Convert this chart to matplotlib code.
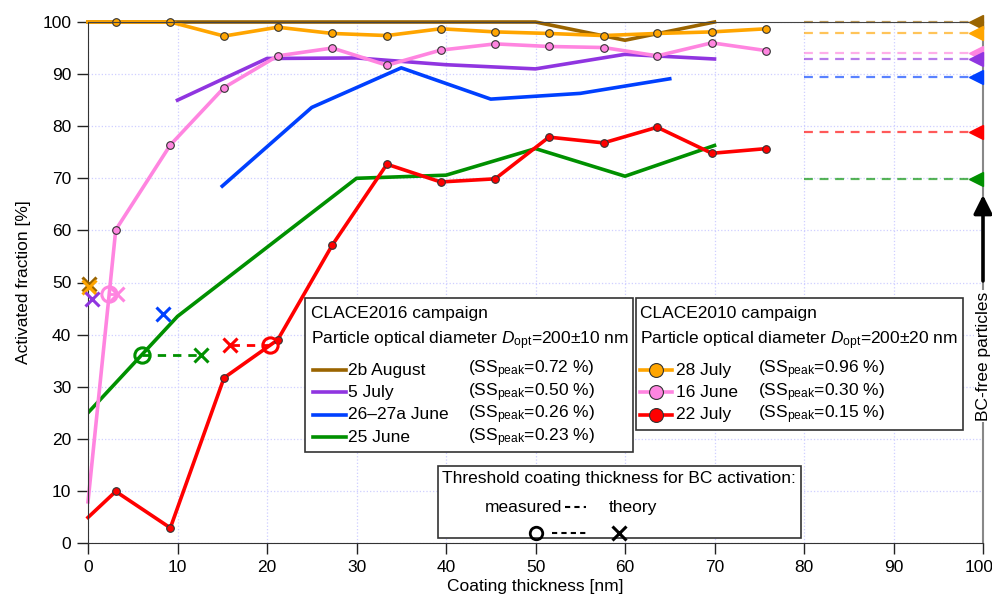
import matplotlib
matplotlib.use("Agg")
import matplotlib.pyplot as plt
import matplotlib.transforms as mtransforms
from matplotlib.patches import Rectangle
from matplotlib.lines import Line2D

plt.rcParams['font.family'] = ['Liberation Sans', 'DejaVu Sans']
plt.rcParams['mathtext.fontset'] = 'custom'
plt.rcParams['mathtext.rm'] = 'Liberation Sans'
plt.rcParams['mathtext.it'] = 'Liberation Sans:italic'
plt.rcParams['font.size'] = 12.5

## CLACE2016 campaign (lines only)
aug2b_x = [0, 50, 60, 70]
aug2b_y = [100, 100, 96.5, 100]
jul5_x = [10, 20, 30, 40, 50, 60, 70]
jul5_y = [85, 93, 93.1, 91.8, 91, 93.8, 92.9]
jun2627_x = [15, 25, 35, 45, 55, 65]
jun2627_y = [68.5, 83.6, 91.2, 85.2, 86.3, 89.1]
jun25_x = [0, 10, 30, 40, 50, 60, 70]
jun25_y = [25, 43.5, 70, 70.6, 75.7, 70.4, 76.3]

## CLACE2010 campaign (lines with markers)
x_2010 = [0, 3.1, 9.2, 15.2, 21.2, 27.3, 33.4, 39.4, 45.5, 51.5, 57.6, 63.6, 69.7, 75.8]
jul28_y = [100, 100, 100, 97.3, 99.0, 97.8, 97.4, 98.7, 98.1, 97.8, 97.4, 97.8, 98.1, 98.7]
jun16_y = [7.9, 60.1, 76.4, 87.4, 93.5, 95.0, 91.7, 94.6, 95.8, 95.3, 95.1, 93.5, 96.0, 94.5]
jul22_y = [4.9, 9.9, 2.9, 31.7, 39.0, 57.2, 72.7, 69.3, 69.9, 77.9, 76.8, 79.8, 74.8, 75.7]

## threshold coating thickness: measured (circle) and theory (cross)
meas_names = ['jun25', 'jul22', 'jun16']
meas_x = [6.0, 20.3, 2.4]
meas_y = [36, 38, 47.7]
theo_names = ['jun25', 'jul22', 'jun16', 'aug2b', 'jul28', 'jul5', 'jun2627']
theo_x = [12.6, 15.9, 3.2, 0.15, 0.15, 0.5, 8.4]
theo_y = [36, 38, 47.7, 49.8, 49.1, 46.8, 43.9]

## activated fraction of BC-free particles
bcfree_names = ['aug2b', 'jul28', 'jun16', 'jul5', 'jun2627', 'jul22', 'jun25']
bcfree_y = [100, 97.9, 94.0, 92.9, 89.4, 78.9, 69.9]

colors = {'aug2b': '#9a6400', 'jul5': '#9035e0', 'jun2627': '#0040ff', 'jun25': '#009000',
          'jul28': '#ffa500', 'jun16': '#ff85e0', 'jul22': '#ff0000'}

fig = plt.figure(figsize=(9.92, 6.06), dpi=100)
ax = fig.add_axes([88/992, 63/606, 895/992, 521/606])
ax.set_xlim(0, 100)
ax.set_ylim(0, 100)
ax.set_xticks(range(0, 101, 10))
ax.set_yticks(range(0, 101, 10))
ax.grid(True, color='#cfcfff', linestyle=':', linewidth=0.9)
ax.set_axisbelow(True)
ax.tick_params(direction='out', length=8, width=1, pad=4, colors='#222222', labelcolor='black')
for side in ['left', 'bottom']:
    ax.spines[side].set_color('#333333')
ax.spines['top'].set_color('#444444')
ax.spines['right'].set_color('#888888')
ax.spines['right'].set_linewidth(1.5)

# last x tick label sits at the figure edge, nudge it in a little
last_lab = ax.get_xticklabels()[-1]
last_lab.set_transform(last_lab.get_transform() +
                       mtransforms.ScaledTranslation(-4 / 100, 0, fig.dpi_scale_trans))

lw = 2.6
ax.plot(aug2b_x, aug2b_y, color=colors['aug2b'], lw=lw, clip_on=False)
ax.plot(jul5_x, jul5_y, color=colors['jul5'], lw=lw)
ax.plot(jun2627_x, jun2627_y, color=colors['jun2627'], lw=lw)
ax.plot(jun25_x, jun25_y, color=colors['jun25'], lw=lw)
for key, ys in [('jul28', jul28_y), ('jun16', jun16_y), ('jul22', jul22_y)]:
    ax.plot(x_2010, ys, color=colors[key], lw=lw, marker='o', ms=5.5, mec='#333333', mew=0.8,
            markevery=list(range(1, len(x_2010))), clip_on=False)

# threshold markers, dashed between measured and theory
for name, mx, my in zip(meas_names, meas_x, meas_y):
    i = theo_names.index(name)
    ax.plot([mx, theo_x[i]], [my, theo_y[i]], color=colors[name], ls=(0, (3, 2.5)), lw=2)
    ax.plot(mx, my, 'o', mfc='none', mec=colors[name], ms=11, mew=2.2, zorder=5)
for name, tx, ty in zip(theo_names, theo_x, theo_y):
    ax.plot(tx, ty, 'x', color=colors[name], ms=10, mew=2.2, zorder=5, clip_on=False)

# BC-free particles on the right
ms_tri = 9.5
shift = mtransforms.ScaledTranslation(-ms_tri / 2 / 72, 0, fig.dpi_scale_trans)
for name, yv in zip(bcfree_names, bcfree_y):
    ax.plot([80, 100], [yv, yv], color=colors[name], ls=(0, (4, 3)), lw=1.6, alpha=0.65, clip_on=False)
    ax.plot([100], [yv], marker='<', ms=ms_tri, color=colors[name], mec=colors[name],
            transform=ax.transData + shift, clip_on=False, zorder=6)

ax.annotate('', xy=(100, 66.8), xytext=(100, 50.3),
            arrowprops=dict(arrowstyle='-|>', lw=2.6, color='black', mutation_scale=28,
                            shrinkA=0, shrinkB=0), annotation_clip=False, zorder=7)
ax.text(100, 35.9, 'BC-free particles', rotation=90, ha='center', va='center', clip_on=False,
        bbox=dict(facecolor='white', edgecolor='none', pad=1), zorder=7)


def box(x0, x1, y0, y1):
    ax.add_patch(Rectangle((x0, y0), x1 - x0, y1 - y0, facecolor='white', edgecolor='#333333',
                           lw=1.2, zorder=8, clip_on=False))


# CLACE2016 legend
box(24.25, 60.9, 17.5, 47.0)
ax.text(24.9, 44.1, 'CLACE2016 campaign', va='center', zorder=9)
ax.text(24.9, 38.9, 'Particle optical diameter $\\it{D}_{\\rm opt}$=200±10 nm', va='center', zorder=9)
rows16 = [('aug2b', '2b August', '0.72'), ('jul5', '5 July', '0.50'),
          ('jun2627', '26–27a June', '0.26'), ('jun25', '25 June', '0.23')]
for k, (key, lab, ss) in enumerate(rows16):
    yy = 33.2 - 4.3 * k
    ax.add_line(Line2D([25.1, 28.8], [yy, yy], color=colors[key], lw=lw, zorder=9, clip_on=False))
    ax.text(29.1, yy, lab, va='center', zorder=9)
    ax.text(42.5, yy, '(SS$_{\\rm peak}$=' + ss + ' %)', va='center', zorder=9)

# CLACE2010 legend
box(61.2, 97.8, 21.7, 47.0)
ax.text(61.7, 44.1, 'CLACE2010 campaign', va='center', zorder=9)
ax.text(61.7, 38.9, 'Particle optical diameter $\\it{D}_{\\rm opt}$=200±20 nm', va='center', zorder=9)
rows10 = [('jul28', '28 July', '0.96'), ('jun16', '16 June', '0.30'), ('jul22', '22 July', '0.15')]
for k, (key, lab, ss) in enumerate(rows10):
    yy = 33.2 - 4.3 * k
    ax.add_line(Line2D([61.7, 65.3], [yy, yy], color=colors[key], lw=lw, zorder=9, clip_on=False))
    ax.add_line(Line2D([63.5], [yy], marker='o', ms=10, mfc=colors[key], mec='#333333', mew=0.8,
                       zorder=10, clip_on=False))
    ax.text(65.7, yy, lab, va='center', zorder=9)
    ax.text(74.9, yy, '(SS$_{\\rm peak}$=' + ss + ' %)', va='center', zorder=9)

# threshold legend
box(39.1, 79.7, 1.0, 14.8)
ax.text(39.5, 12.3, 'Threshold coating thickness for BC activation:', va='center', zorder=9)
ax.text(53.0, 6.9, 'measured', va='center', ha='right', zorder=9)
ax.add_line(Line2D([53.3, 55.6], [6.9, 6.9], color='black', ls=(0, (2.5, 2)), lw=1.5, zorder=9))
ax.text(58.2, 6.9, 'theory', va='center', zorder=9)
ax.add_line(Line2D([50.0], [1.9], marker='o', ms=9, mfc='none', mec='black', mew=2, zorder=9, clip_on=False))
ax.add_line(Line2D([51.8, 55.6], [1.9, 1.9], color='black', ls=(0, (2.5, 2)), lw=1.5, zorder=9, clip_on=False))
ax.add_line(Line2D([59.3], [1.9], marker='x', ms=10, color='black', mew=2.2, zorder=9, clip_on=False))

ax.set_xlabel('Coating thickness [nm]', labelpad=3)
ax.set_ylabel('Activated fraction [%]', labelpad=8)

fig.savefig('out.png', dpi=100)
